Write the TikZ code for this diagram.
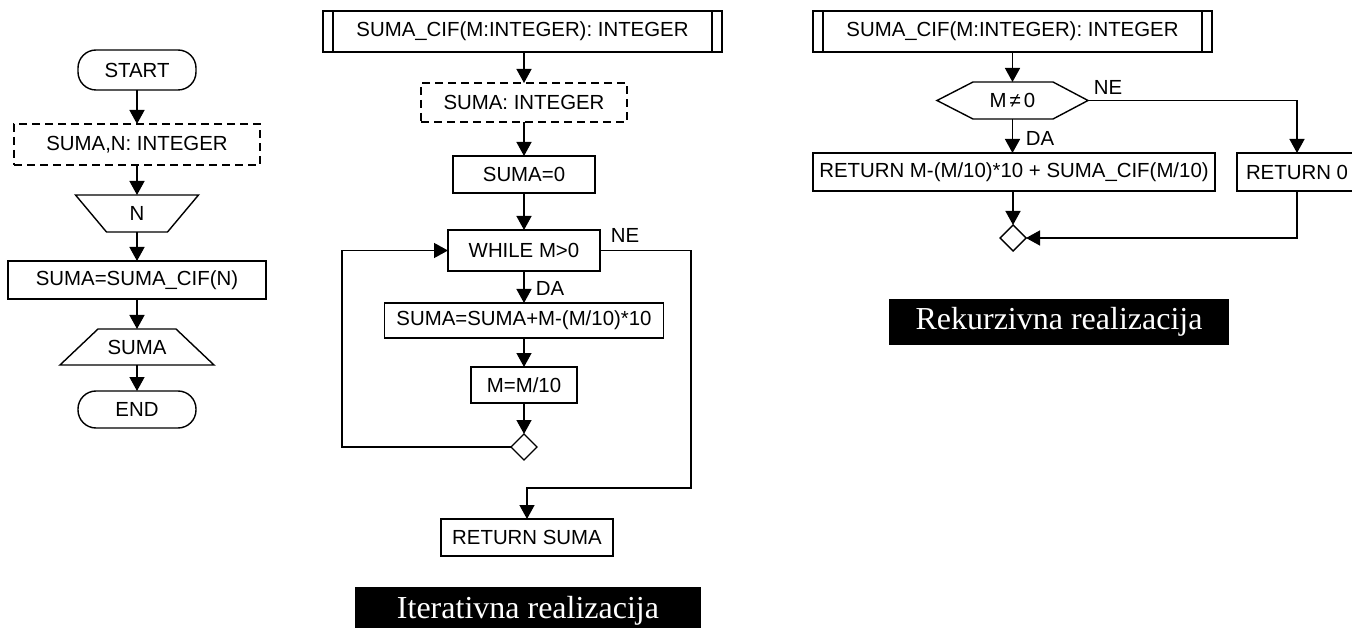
\documentclass[tikz,border=0pt]{standalone}
\usepackage{fontspec}
\setmainfont{Liberation Sans}
\newfontfamily\capfont{Liberation Serif}
\usetikzlibrary{arrows.meta,calc,shapes.geometric}
\begin{document}
\begin{tikzpicture}[x=1pt,y=-1pt,
  font=\fontsize{20.4}{24}\selectfont,
  every node/.style={inner sep=0pt, outer sep=0pt},
  lw/.style={line width=1.4pt},
  box/.style={draw, lw, rectangle},
  dbox/.style={draw, lw, dash pattern=on 8pt off 5pt},
  rbox/.style={draw, lw, rounded corners=18pt},
  arr/.style={lw, -{Triangle[length=14pt,width=15pt]}},
  merge/.style={draw, lw, diamond, minimum width=26pt, minimum height=26pt},
  caption/.style={fill=black, text=white, font=\capfont\fontsize{32}{36}\selectfont}
]
\useasboundingbox (0,0) rectangle (1352,628);

% ---------- left: main program ----------
\node[rbox, minimum width=118pt, minimum height=40pt] (start) at (137,70) {START};
\node[dbox, minimum width=246pt, minimum height=41pt] (decl) at (137,144.5) {SUMA,N: INTEGER};
\node[minimum width=123pt, minimum height=37pt] (inN) at (137,213.5) {N};
\draw[lw] (inN.north west) -- (inN.north east) -- ($(inN.south east)+(-31,0)$) -- ($(inN.south west)+(31,0)$) -- cycle;
\node[box, minimum width=258pt, minimum height=38pt] (asg) at (137,280) {SUMA=SUMA\_CIF(N)};
\node[minimum width=154pt, minimum height=36pt] (out) at (137,347) {SUMA};
\draw[lw] ($(out.north west)+(38,0)$) -- ($(out.north east)+(-38,0)$) -- (out.south east) -- (out.south west) -- cycle;
\node[rbox, minimum width=118pt, minimum height=37pt] (end) at (137,409.5) {END};

\draw[arr] (start) -- (decl);
\draw[arr] (decl) -- (inN);
\draw[arr] (inN) -- (asg);
\draw[arr] (asg) -- (out);
\draw[arr] (out) -- (end);

% ---------- middle: iterative ----------
\node[box, minimum width=399pt, minimum height=41pt] (hdr1) at (522.5,31.5) {SUMA\_CIF(M:INTEGER): INTEGER};
\draw[lw] ([xshift=10pt]hdr1.north west) -- ([xshift=10pt]hdr1.south west);
\draw[lw] ([xshift=-10pt]hdr1.north east) -- ([xshift=-10pt]hdr1.south east);
\node[dbox, minimum width=206pt, minimum height=39pt] (decl2) at (524,102.5) {SUMA: INTEGER};
\node[box, minimum width=142pt, minimum height=37pt] (s0) at (524,174.5) {SUMA=0};
\node[box, minimum width=152pt, minimum height=41pt] (wh) at (524,250.5) {WHILE M>0};
\node[box, minimum width=279pt, minimum height=35pt] (acc) at (524,320.5) {SUMA=SUMA+M-(M/10)*10};
\node[box, minimum width=106pt, minimum height=36pt] (div) at (524,385) {M=M/10};
\node[merge] (m1) at (524,447) {};
\node[box, minimum width=172pt, minimum height=37pt] (ret1) at (527,537.5) {RETURN SUMA};
\coordinate (lp) at (342,447);
\coordinate (ne1) at (691,488);

\draw[arr] (hdr1.south -| decl2) -- (decl2.north);
\draw[arr] (decl2) -- (s0);
\draw[arr] (s0) -- (wh);
\draw[arr] (wh) -- (acc);
\draw[arr] (acc) -- (div);
\draw[arr] (div) -- (m1);
\draw[arr] (m1.west) -- (lp) |- (wh.west);
\draw[arr] (wh.east) -| (ne1) -| (ret1.north);
\node (ne1l) at (625,235) {NE};
\node (da1) at (550,288) {DA};

\node[caption, minimum width=346pt, minimum height=48pt] (cap1) at (528,611) {Iterativna realizacija};

% ---------- right: recursive ----------
\node[box, minimum width=399pt, minimum height=41pt] (hdr2) at (1012.5,31.5) {SUMA\_CIF(M:INTEGER): INTEGER};
\draw[lw] ([xshift=10pt]hdr2.north west) -- ([xshift=10pt]hdr2.south west);
\draw[lw] ([xshift=-10pt]hdr2.north east) -- ([xshift=-10pt]hdr2.south east);
\node[minimum width=151pt, minimum height=37pt] (hex) at (1012.5,100.5) {M\hspace{3pt}≠\hspace{3pt}0};
\draw[lw] (hex.west) -- ($(hex.north west)+(36,0)$) -- ($(hex.north east)+(-35,0)$) -- (hex.east) -- ($(hex.south east)+(-35,0)$) -- ($(hex.south west)+(36,0)$) -- cycle;
\node[box, minimum width=402pt, minimum height=38pt] (ret2) at (1014,172) {RETURN M-(M/10)*10 + SUMA\_CIF(M/10)};
\node[box, minimum width=120pt, minimum height=38pt] (ret0) at (1297,172) {RETURN 0};
\node[merge] (m2) at (1013,238) {};

\draw[arr] (hdr2) -- (hex);
\draw[arr] (hex.south) -- (hex.south |- ret2.north);
\draw[arr] (ret2.south -| m2) -- (m2.north);
\draw[arr] (hex.east) -| (ret0.north);
\draw[arr] (ret0.south) |- (m2.east);
\node (ne2l) at (1108,87.5) {NE};
\node (da2) at (1040,138) {DA};

\node[caption, minimum width=340pt, minimum height=46pt] (cap2) at (1059,322) {Rekurzivna realizacija};
\end{tikzpicture}
\end{document}
